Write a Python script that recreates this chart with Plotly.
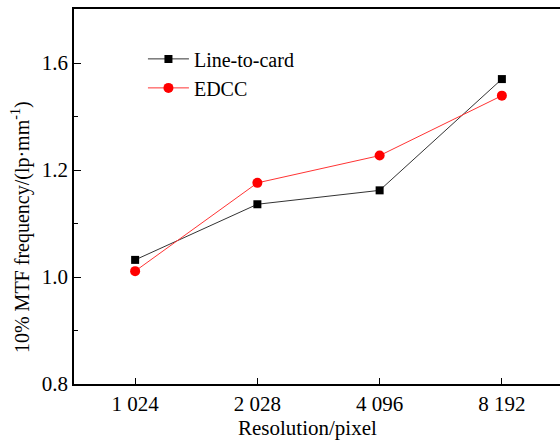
import plotly.graph_objects as go

# Image resolution categories and measured 10% MTF frequency
resolutions = ["1 024", "2 028", "4 096", "8 192"]
line_to_card = [1.032, 1.136, 1.162, 1.370]
edcc = [1.011, 1.176, 1.227, 1.339]

# y tick positions and the labels printed at them
y_tick_vals = [0.8, 1.0, 1.2, 1.4]
y_tick_text = ["0.8", "1.0", "1.2", "1.6"]

FONT = "Liberation Serif"

fig = go.Figure()
fig.add_trace(go.Scatter(
    x=resolutions, y=line_to_card, name="Line-to-card",
    mode="lines+markers",
    line=dict(color="#333333", width=1),
    marker=dict(symbol="square", size=8, color="black"),
))
fig.add_trace(go.Scatter(
    x=resolutions, y=edcc, name="EDCC",
    mode="lines+markers",
    line=dict(color="#ff3333", width=1),
    marker=dict(symbol="circle", size=10, color="#ff0000"),
))

fig.update_layout(
    width=563, height=441,
    margin=dict(l=74, r=0, t=9, b=57),
    paper_bgcolor="white", plot_bgcolor="white",
    font=dict(family=FONT, size=21, color="black"),
    showlegend=True,
    legend=dict(
        x=0.141, y=0.919, xanchor="left", yanchor="top",
        bgcolor="rgba(0,0,0,0)", font=dict(family=FONT, size=20),
        tracegroupgap=0, itemwidth=41,
    ),
    annotations=[
        dict(text="10% MTF frequency/(lp·mm<sup>-1</sup>)", textangle=-90,
             xref="paper", yref="paper", x=-0.108, y=0.419,
             xanchor="center", yanchor="middle", showarrow=False,
             font=dict(family=FONT, size=20)),
        dict(text="Resolution/pixel",
             xref="paper", yref="paper", x=0.4775, y=-0.117,
             xanchor="center", yanchor="middle", showarrow=False,
             font=dict(family=FONT, size=21)),
    ],
)
fig.update_xaxes(
    type="category", range=[-0.5, 3.5],
    showline=True, linecolor="black", linewidth=1.5, mirror=True,
    ticks="inside", ticklen=6, tickcolor="black",
    showgrid=False, zeroline=False,
    tickfont=dict(family=FONT, size=21),
)
fig.update_yaxes(
    range=[0.8, 1.501],
    tickvals=y_tick_vals, ticktext=y_tick_text,
    showline=True, linecolor="black", linewidth=1.5, mirror=False,
    ticks="inside", ticklen=7, tickcolor="black",
    minor=dict(ticks="inside", ticklen=4, tickcolor="black", dtick=0.1, tick0=0.8),
    showgrid=False, zeroline=False,
    tickfont=dict(family=FONT, size=21),
)

fig.write_html("out.html")
